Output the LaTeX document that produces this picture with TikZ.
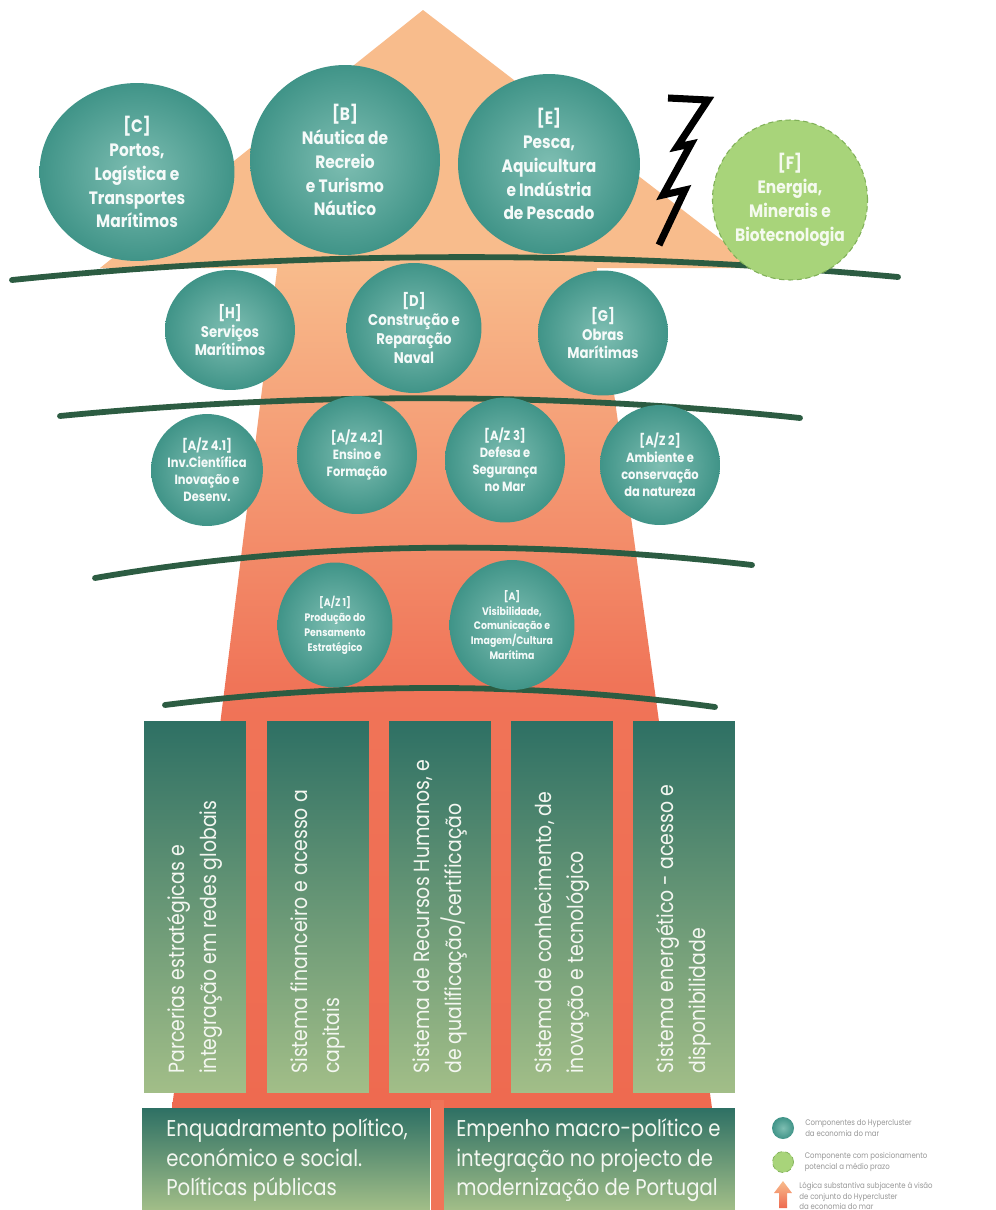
\documentclass[tikz,border=0pt]{standalone}
\usepackage{fontspec}
\setmainfont{Poppins}[FakeStretch=0.86]
\usetikzlibrary{shapes.geometric,positioning,calc}
\definecolor{peach}{RGB}{248,188,140}
\definecolor{coralmid}{RGB}{240,116,88}
\definecolor{coralbot}{RGB}{238,106,80}
\definecolor{tealdark}{RGB}{64,148,136}
\definecolor{teallight}{RGB}{126,190,178}
\definecolor{pinetop}{RGB}{46,112,100}
\definecolor{sagebot}{RGB}{162,190,136}
\definecolor{limefill}{RGB}{168,212,122}
\definecolor{limeline}{RGB}{128,176,88}
\definecolor{arcgreen}{RGB}{44,92,66}
\definecolor{legendgray}{RGB}{150,150,150}

\begin{document}
\begin{tikzpicture}[x=0.02cm,y=-0.02cm]
	\tikzstyle{comp}=[ellipse, inner color=teallight, outer color=tealdark, text=white!92!teallight, align=center, inner sep=0pt]
	\tikzstyle{future}=[ellipse, fill=limefill, draw=limeline, densely dashed, line width=0.6pt, text=white!88!limefill, align=center, inner sep=0pt]
	\tikzstyle{rowone}=[font=\bfseries\fontsize{10.2}{13.6}\selectfont]
	\tikzstyle{rowtwo}=[font=\bfseries\fontsize{8.8}{10.8}\selectfont]
	\tikzstyle{rowthree}=[font=\bfseries\fontsize{7.6}{9.7}\selectfont]
	\tikzstyle{rowfour}=[font=\bfseries\fontsize{6.2}{8.5}\selectfont]
	\tikzstyle{pillar}=[rectangle, top color=pinetop, bottom color=sagebot, minimum width=2.04cm, minimum height=7.42cm, inner sep=0pt]
	\tikzstyle{pillartext}=[rotate=90, anchor=west, align=left, inner sep=0pt, text=white!88!sagebot, font=\fontsize{12.5}{18}\selectfont]
	\tikzstyle{basebox}=[rectangle, top color=pinetop, bottom color=sagebot, minimum height=2.04cm, inner sep=0pt]
	\tikzstyle{basetext}=[anchor=north west, align=left, inner sep=0pt, text=white!88!sagebot, font=\fontsize{13}{17}\selectfont]
	\tikzstyle{layerline}=[draw=arcgreen, line width=3.3pt, line cap=round]
	\tikzstyle{bolt}=[draw=black, line width=4pt, miter limit=20]
	\tikzstyle{legendtext}=[anchor=west, align=left, inner sep=0pt, text=legendgray, font=\fontsize{4.6}{6}\selectfont]

	\useasboundingbox (0,0) rectangle (996,1210);

	% the big arrow: head and widening shaft
	\fill[peach] (423,10) -- (758,268) -- (100,268) -- cycle;
	\shade[top color=peach, bottom color=coralbot, middle color=coralmid] (278,262) -- (596,262) -- (712,1108) -- (172,1108) -- cycle;
	\fill[coralmid] (431,1100) rectangle (444,1210);

	% layer separators
	\draw[layerline] (12,280) .. controls (305,250) and (605,250) .. (898,277);
	\draw[layerline] (60,416) .. controls (307,392) and (553,392) .. (800,418);
	\draw[layerline] (95,578) .. controls (314,540) and (533,540) .. (752,565);
	\draw[layerline] (165,705) .. controls (348,682) and (532,682) .. (715,707);

	% first layer
	\node[comp, rowone, minimum width=3.9cm, minimum height=3.56cm] (C) at (137,172) {[C]\\Portos,\\Logística e\\Transportes\\Marítimos};
	\node[comp, rowone, minimum width=3.8cm, minimum height=3.8cm] (B) at (345,160) {[B]\\Náutica de\\Recreio\\e Turismo\\Náutico};
	\node[comp, rowone, minimum width=3.64cm, minimum height=3.6cm] (E) at (549,164) {[E]\\Pesca,\\Aquicultura\\e Indústria\\de Pescado};
	\node[future, rowone, minimum width=3.1cm, minimum height=3.2cm] (F) at (790,200) {[F]\\Energia,\\Minerais e\\Biotecnologia};
	\draw[bolt] (668,98) -- (708,100) -- (677,147) -- (691,144) -- (663,195) -- (685,190) -- (659,245);

	% second layer
	\node[comp, rowtwo, minimum width=2.6cm, minimum height=2.4cm] (H) at (230,330) {[H]\\Serviços\\Marítimos};
	\node[comp, rowtwo, minimum width=2.7cm, minimum height=2.6cm] (D) at (414,328) {[D]\\Construção e\\Reparação\\Naval};
	\node[comp, rowtwo, minimum width=2.6cm, minimum height=2.5cm] (G) at (603,333) {[G]\\Obras\\Marítimas};

	% third layer
	\node[comp, rowthree, minimum width=2.2cm, minimum height=2.24cm] (AZ-41) at (207,470) {[A/Z 4.1]\\Inv.Científica\\Inovação e\\Desenv.};
	\node[comp, rowthree, minimum width=2.4cm, minimum height=2.36cm] (AZ-42) at (357,455) {[A/Z 4.2]\\Ensino e\\Formação};
	\node[comp, rowthree, minimum width=2.4cm, minimum height=2.5cm] (AZ-3) at (505,460) {[A/Z 3]\\Defesa e\\Segurança\\no Mar};
	\node[comp, rowthree, minimum width=2.4cm, minimum height=2.4cm] (AZ-2) at (660,465) {[A/Z 2]\\Ambiente e\\conservação\\da natureza};

	% fourth layer
	\node[comp, rowfour, minimum width=2.3cm, minimum height=2.5cm] (AZ-1) at (335,625) {[A/Z 1]\\Produção do\\Pensamento\\Estratégico};
	\node[comp, rowfour, minimum width=2.5cm, minimum height=2.6cm] (A) at (512,625) {[A]\\Visibilidade,\\Comunicação e\\Imagem/Cultura\\Marítima};

	% pillars
	\foreach \name/\x/\txt in {1/195/{Parcerias estratégicas e\\integração em redes globais},
		2/318/{Sistema financeiro e acesso a\\capitais},
		3/440/{Sistema de Recursos Humanos, e\\de qualificação/certificação},
		4/562/{Sistema de conhecimento, de\\inovação e tecnológico},
		5/684/{Sistema energético - acesso e\\disponibilidade}}
	{
	 \node[pillar] (P-\name) at (\x,907) {};
	 \node[pillartext] (T-\name) at (\x,1074) {\txt};
	}

	% foundations
	\node[basebox, minimum width=5.76cm] (base-1) at (286,1159) {};
	\node[basebox, minimum width=5.82cm] (base-2) at (589.5,1159) {};
	\node[basetext] at (166,1118) {Enquadramento político,\\económico e social.\\Políticas públicas};
	\node[basetext] at (456,1118) {Empenho macro-político e\\integração no projecto de\\modernização de Portugal};

	% legend
	\node[comp, minimum size=0.44cm] (L-1) at (783,1128) {};
	\node[future, minimum size=0.42cm, line width=0.4pt] (L-2) at (783,1162) {};
	\shade[top color=peach, bottom color=coralbot] (779,1208) -- (779,1193) -- (774,1193) -- (783,1181) -- (792,1193) -- (787,1193) -- (787,1208) -- cycle;
	\coordinate (L-3) at (792,1196);
	\node[legendtext, right=6pt of L-1] {Componentes do Hypercluster\\da economia do mar};
	\node[legendtext, right=6pt of L-2] {Componente com posicionamento\\potencial a médio prazo};
	\node[legendtext, right=4pt of L-3] {Lógica substantiva subjacente à visão\\de conjunto do Hypercluster\\da economia do mar};
\end{tikzpicture}
\end{document}
